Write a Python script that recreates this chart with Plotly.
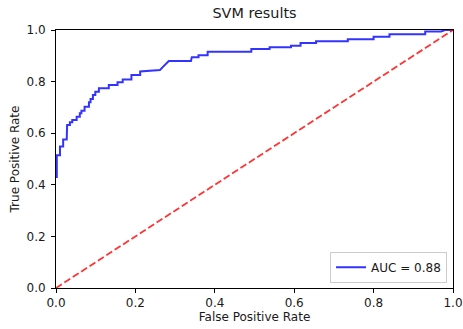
import plotly.graph_objects as go

# ROC curve points (false positive rate, true positive rate)
fpr = [0.0, 0.002, 0.002, 0.010, 0.010, 0.018, 0.018, 0.027, 0.028, 0.035, 0.035,
       0.041, 0.041, 0.052, 0.052, 0.060, 0.060, 0.064, 0.064, 0.072, 0.072,
       0.083, 0.083, 0.087, 0.087, 0.093, 0.093, 0.099, 0.099, 0.108, 0.108,
       0.133, 0.133, 0.155, 0.155, 0.168, 0.168, 0.190, 0.190, 0.212, 0.212,
       0.262, 0.270, 0.278, 0.284, 0.340, 0.342, 0.359, 0.359, 0.382, 0.382,
       0.492, 0.492, 0.538, 0.538, 0.592, 0.592, 0.616, 0.616, 0.655, 0.655,
       0.735, 0.735, 0.800, 0.800, 0.840, 0.840, 0.930, 0.930, 0.970, 0.980,
       1.0]
tpr = [0.430, 0.430, 0.515, 0.515, 0.548, 0.548, 0.576, 0.576, 0.632, 0.632, 0.642,
       0.642, 0.651, 0.651, 0.664, 0.664, 0.677, 0.677, 0.687, 0.687, 0.703,
       0.703, 0.720, 0.720, 0.733, 0.733, 0.748, 0.748, 0.761, 0.761, 0.774,
       0.774, 0.787, 0.787, 0.797, 0.797, 0.808, 0.808, 0.826, 0.826, 0.839,
       0.845, 0.858, 0.871, 0.880, 0.880, 0.894, 0.894, 0.902, 0.902, 0.916,
       0.916, 0.926, 0.926, 0.933, 0.933, 0.939, 0.939, 0.950, 0.950, 0.956,
       0.956, 0.964, 0.964, 0.974, 0.974, 0.984, 0.984, 0.994, 0.994, 1.0,
       1.0]
auc_label = "AUC = 0.88"

chance_x = [0.0, 1.0]
chance_y = [0.0, 1.0]

tick_vals = [0.0, 0.2, 0.4, 0.6, 0.8, 1.0]
tick_text = ["0.0", "0.2", "0.4", "0.6", "0.8", "1.0"]

font = "DejaVu Sans"
ink = "#1a1a1a"

fig = go.Figure()
fig.add_trace(go.Scatter(
    x=fpr, y=tpr, mode="lines", name=auc_label,
    line=dict(color="rgba(0,0,255,0.8)", width=2),
))
fig.add_trace(go.Scatter(
    x=chance_x, y=chance_y, mode="lines", showlegend=False,
    line=dict(color="rgba(255,0,0,0.8)", width=1.8, dash="7px,3px"),
))

axis_common = dict(
    range=[0, 1], tickvals=tick_vals, ticktext=tick_text,
    showgrid=False, zeroline=False, showline=True, linecolor="#000000",
    linewidth=1, mirror=True, ticks="outside", ticklen=4, tickwidth=1,
    tickcolor="#000000", ticklabeloverflow="allow", automargin=False,
    tickfont=dict(family=font, size=12, color=ink),
)

fig.update_layout(
    width=463, height=329,
    margin=dict(l=56, r=10, t=30, b=41),
    paper_bgcolor="white", plot_bgcolor="white",
    title=dict(text="SVM results", x=0.5, xanchor="center", xref="paper",
               y=0.96, yanchor="middle",
               font=dict(family=font, size=14.4, color=ink)),
    xaxis=dict(axis_common, ticklabelstandoff=0,
               title=dict(text="False Positive Rate", standoff=3,
                          font=dict(family=font, size=12, color=ink))),
    yaxis=dict(axis_common, ticklabelstandoff=3,
               title=dict(text="True Positive Rate", standoff=4,
                          font=dict(family=font, size=12, color=ink))),
    legend=dict(x=0.985, y=0.02, xanchor="right", yanchor="bottom",
                bgcolor="white", bordercolor="#cccccc", borderwidth=1,
                font=dict(family=font, size=12, color=ink)),
    showlegend=True,
)

fig.write_html("out.html")
